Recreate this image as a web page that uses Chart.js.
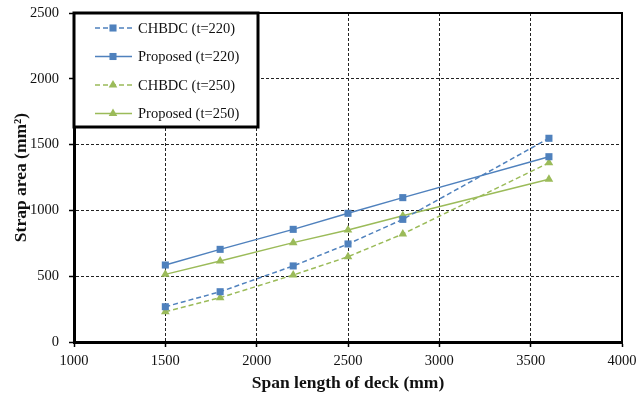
<!DOCTYPE html>
<html>
<head>
<meta charset="utf-8">
<title>Strap area vs span length</title>
<script src="https://cdn.jsdelivr.net/npm/chart.js@4.4.1/dist/chart.umd.min.js"></script>
<style>
    body { margin: 0; background: #fff; }
    #wrap { width: 637px; height: 400px; }
</style>
</head>
<body>
<div id="wrap"><canvas id="strap-chart" width="637" height="400"></canvas></div>
<script>
// Span lengths (mm) and strap areas (mm²)
const spans = [1500, 1800, 2200, 2500, 2800, 3600];
const chbdc220 = [268, 382, 578, 745, 932, 1548];
const proposed220 = [585, 704, 856, 978, 1097, 1408];
const chbdc250 = [230, 337, 509, 648, 821, 1362];
const proposed250 = [514, 615, 755, 851, 960, 1236];

const seriesLabels = ['CHBDC (t=220)', 'Proposed (t=220)', 'CHBDC (t=250)', 'Proposed (t=250)'];
const xTicks = [1000, 1500, 2000, 2500, 3000, 3500, 4000];
const yTicks = [0, 500, 1000, 1500, 2000, 2500];

const blue = '#4F81BD';
const green = '#9BBB59';
const serif = "'Liberation Serif', 'Times New Roman', serif";

function toPoints(values) {
    return spans.map((x, i) => ({ x: x, y: values[i] }));
}

function makeDataset(label, values, color, dashed, marker) {
    return {
        label: label,
        data: toPoints(values),
        showLine: true,
        borderColor: color,
        backgroundColor: color,
        borderWidth: 1.5,
        borderDash: dashed ? [5, 3] : [],
        pointStyle: marker,
        pointRadius: 5,
        pointBorderWidth: 0,
        pointBackgroundColor: color,
        tension: 0
    };
}

const datasets = [
    makeDataset(seriesLabels[0], chbdc220, blue, true, 'rect'),
    makeDataset(seriesLabels[1], proposed220, blue, false, 'rect'),
    makeDataset(seriesLabels[2], chbdc250, green, true, 'triangle'),
    makeDataset(seriesLabels[3], proposed250, green, false, 'triangle')
];

// Solid frame on top and right of the plot area
const framePlugin = {
    id: 'frame',
    afterDatasetsDraw(chart) {
        const { ctx, chartArea } = chart;
        ctx.save();
        ctx.strokeStyle = '#000';
        ctx.lineWidth = 2;
        ctx.beginPath();
        ctx.moveTo(chartArea.left, chartArea.top);
        ctx.lineTo(chartArea.right, chartArea.top);
        ctx.lineTo(chartArea.right, chartArea.bottom);
        ctx.stroke();
        ctx.restore();
    }
};

function drawMarker(ctx, style, x, y, r) {
    ctx.beginPath();
    if (style === 'rect') {
        const s = r * Math.SQRT1_2;
        ctx.rect(x - s, y - s, 2 * s, 2 * s);
    } else {
        ctx.moveTo(x, y - r);
        ctx.lineTo(x + r * 0.866, y + r * 0.5);
        ctx.lineTo(x - r * 0.866, y + r * 0.5);
        ctx.closePath();
    }
    ctx.fill();
}

// Boxed legend inside the plot area, Excel style (line sample with marker)
const boxLegendPlugin = {
    id: 'boxLegend',
    afterDraw(chart) {
        const { ctx, chartArea } = chart;
        const left = chartArea.left;
        const top = chartArea.top;
        const w = 184, h = 114;
        ctx.save();
        ctx.fillStyle = '#fff';
        ctx.fillRect(left, top, w, h);
        ctx.strokeStyle = '#000';
        ctx.lineWidth = 3;
        ctx.strokeRect(left, top, w, h);

        ctx.font = '14.5px ' + serif;
        ctx.textBaseline = 'middle';
        chart.data.datasets.forEach((ds, i) => {
            const y = top + 15 + i * 28.5;
            ctx.strokeStyle = ds.borderColor;
            ctx.lineWidth = ds.borderWidth;
            ctx.setLineDash(ds.borderDash);
            ctx.beginPath();
            ctx.moveTo(left + 21, y);
            ctx.lineTo(left + 58, y);
            ctx.stroke();
            ctx.setLineDash([]);
            ctx.fillStyle = ds.borderColor;
            drawMarker(ctx, ds.pointStyle, left + 39, y, 5);
            ctx.fillStyle = '#111';
            ctx.fillText(ds.label, left + 64, y + 1);
        });
        ctx.restore();
    }
};

const ctx = document.getElementById('strap-chart').getContext('2d');
const strapChart = new Chart(ctx, {
    type: 'scatter',
    data: { datasets: datasets },
    options: {
        responsive: false,
        animation: false,
        layout: { padding: { top: 13, right: 15, left: 8, bottom: 4 } },
        plugins: {
            legend: { display: false },
            tooltip: { enabled: false }
        },
        scales: {
            x: {
                type: 'linear',
                min: 1000,
                max: 4000,
                afterBuildTicks: (scale) => { scale.ticks = xTicks.map(v => ({ value: v })); },
                afterFit: (scale) => {
                    scale.height = 54;
                    scale.paddingLeft = 0;
                    scale.paddingRight = 0;
                },
                ticks: {
                    color: '#111',
                    padding: 5,
                    font: { family: serif, size: 14.5 },
                    callback: (v) => String(v)
                },
                grid: {
                    color: '#222',
                    lineWidth: 1,
                    tickLength: 5,
                    tickColor: '#000',
                    tickWidth: 1.5,
                    tickBorderDash: []
                },
                border: { display: true, color: '#000', width: 3, dash: [3, 2] },
                title: {
                    display: true,
                    text: 'Span length of deck (mm)',
                    color: '#111',
                    padding: { top: 0, bottom: 2 },
                    font: { family: serif, size: 17.5, weight: 'bold' }
                }
            },
            y: {
                type: 'linear',
                min: 0,
                max: 2500,
                afterBuildTicks: (scale) => { scale.ticks = yTicks.map(v => ({ value: v })); },
                afterFit: (scale) => {
                    scale.width = 66;
                    scale.paddingTop = 0;
                    scale.paddingBottom = 0;
                },
                ticks: {
                    color: '#111',
                    padding: 10,
                    font: { family: serif, size: 14.5 },
                    callback: (v) => String(v)
                },
                grid: {
                    color: '#222',
                    lineWidth: 1,
                    tickLength: 5,
                    tickColor: '#000',
                    tickWidth: 1.5,
                    tickBorderDash: []
                },
                border: { display: true, color: '#000', width: 3, dash: [3, 2] },
                title: {
                    display: true,
                    text: 'Strap area (mm²)',
                    color: '#111',
                    padding: { top: 3, bottom: 0 },
                    font: { family: serif, size: 17.5, weight: 'bold' }
                }
            }
        }
    },
    plugins: [framePlugin, boxLegendPlugin]
});
</script>
</body>
</html>
